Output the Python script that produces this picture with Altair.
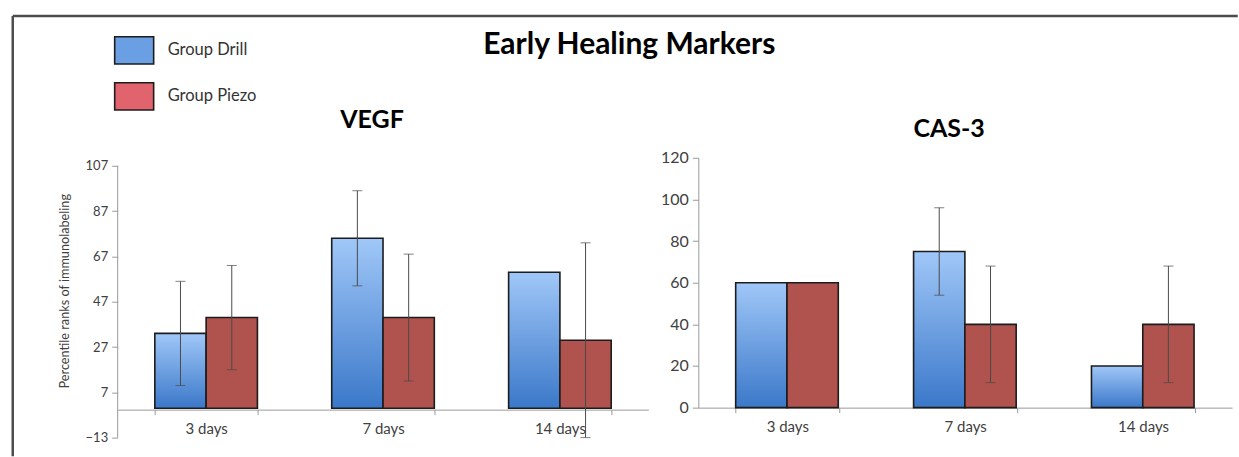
import altair as alt
import pandas as pd

# Time points and treatment groups
days = ["3 days", "7 days", "14 days"]
groups = ["Group Drill", "Group Piezo"]

# VEGF: percentile ranks of immunolabeling (mean and error half-width)
vegf_drill = [33, 75, 60]
vegf_drill_err = [23, 21, None]
vegf_piezo = [40, 40, 30]
vegf_piezo_err = [23, 28, 43]

# CAS-3
cas3_drill = [60, 75, 20]
cas3_drill_err = [None, 21, None]
cas3_piezo = [60, 40, 40]
cas3_piezo_err = [None, 28, 28]

# Axis tick values
vegf_ticks = [-13, 7, 27, 47, 67, 87, 107]
cas3_ticks = [0, 20, 40, 60, 80, 100, 120]

FONT = "Lato"
BLUE_GRADIENT = {
    "gradient": "linear",
    "x1": 0, "y1": 0, "x2": 0, "y2": 1,
    "stops": [
        {"offset": 0, "color": "#a0c7f8"},
        {"offset": 1, "color": "#3b78c9"},
    ],
}
RED_FILL = "#b0524d"
FRAME = "#4d4d4d"


def build_table(drill, drill_err, piezo, piezo_err):
    rows = []
    for series, vals, errs in (("Group Drill", drill, drill_err),
                               ("Group Piezo", piezo, piezo_err)):
        for day, v, e in zip(days, vals, errs):
            rows.append({
                "day": day,
                "group": series,
                "value": v,
                "lo": None if e is None else v - e,
                "hi": None if e is None else v + e,
            })
    return pd.DataFrame(rows)


def panel(df, width, height, ydomain, yticks, title, title_dx, title_offset,
          x_axis_offset, ylabel_size, ytitle=None, legend=False, yrule=None):
    x = alt.X(
        "day:N", sort=days,
        scale=alt.Scale(paddingInner=0.42, paddingOuter=0.21),
        axis=alt.Axis(title=None, offset=x_axis_offset, tickBand="extent",
                      domainColor="#9a9a9a", tickColor="#9a9a9a", tickSize=5,
                      labelFontSize=15, labelColor="#404040", labelFont=FONT,
                      labelPadding=7, labelAngle=0),
    )
    xo = alt.XOffset("group:N", sort=groups,
                     scale=alt.Scale(paddingInner=0, paddingOuter=0))
    yaxis_kw = dict(values=yticks, grid=False, domain=yrule is None,
                    domainColor="#9a9a9a", tickColor="#9a9a9a", tickSize=6,
                    labelFontSize=ylabel_size, labelColor="#404040",
                    labelFont=FONT, labelPadding=4)
    if ytitle:
        yaxis_kw.update(title=ytitle, titleFontSize=12.7, titleFont=FONT,
                        titleFontWeight="normal", titleColor="#404040",
                        titlePadding=14, titleY=133)
    else:
        yaxis_kw.update(title=None)
    y = alt.Y("value:Q",
              scale=alt.Scale(domain=ydomain, nice=False, zero=False),
              axis=alt.Axis(**yaxis_kw))

    base = alt.Chart(df)
    drill_bars = base.transform_filter(alt.datum.group == "Group Drill").mark_bar(
        fill=BLUE_GRADIENT, stroke="#1c1c1c", strokeWidth=1.6
    ).encode(x=x, xOffset=xo, y=y, y2=alt.datum(0))
    piezo_bars = base.transform_filter(alt.datum.group == "Group Piezo").mark_bar(
        fill=RED_FILL, stroke="#1c1c1c", strokeWidth=1.6
    ).encode(x=x, xOffset=xo, y=y, y2=alt.datum(0))

    err = base.transform_filter("isValid(datum.lo)")
    err_rule = err.mark_rule(color="#4a4a4a", strokeWidth=1).encode(
        x=x, xOffset=xo, y="lo:Q", y2="hi:Q")
    cap_lo = err.mark_tick(color="#4a4a4a", thickness=1, size=10).encode(
        x=x, xOffset=xo, y="lo:Q")
    cap_hi = err.mark_tick(color="#4a4a4a", thickness=1, size=10).encode(
        x=x, xOffset=xo, y="hi:Q")

    layers = [drill_bars, piezo_bars, err_rule, cap_lo, cap_hi]

    if yrule is not None:
        layers.append(
            alt.Chart(pd.DataFrame({"a": [0]})).mark_rule(
                color="#9a9a9a", strokeWidth=1
            ).encode(x=alt.value(0), y=alt.datum(yrule[0]), y2=alt.datum(yrule[1]))
        )

    if legend:
        layers.append(
            base.mark_square(opacity=0).encode(
                x=x, xOffset=xo, y=y,
                color=alt.Color(
                    "group:N", sort=groups,
                    scale=alt.Scale(domain=groups, range=["#6a9fe3", "#e0636e"]),
                    legend=alt.Legend(
                        title=None, orient="none", legendX=-4, legendY=-128,
                        padding=0, symbolType="M-1,-0.7H1V0.7H-1Z",
                        symbolSize=1521, symbolOpacity=1,
                        symbolStrokeColor="#1c1c1c", symbolStrokeWidth=1.6,
                        labelFontSize=16.5, labelFont=FONT, labelColor="#333333",
                        labelOffset=13, rowPadding=8,
                    ),
                ),
            )
        )
        # figure frame: left and top edges (the others fall outside the canvas)
        frame_src = alt.Chart(pd.DataFrame({"a": [0]}))
        layers.append(
            frame_src.mark_rule(color=FRAME, strokeWidth=2.5).encode(
                x=alt.value(-105), y=alt.value(-142), y2=alt.value(298.75))
        )
        layers.append(
            frame_src.mark_rule(color=FRAME, strokeWidth=2.5).encode(
                x=alt.value(-105), x2=alt.value(1120.75), y=alt.value(-142))
        )

    return alt.layer(*layers).properties(
        width=width, height=height,
        title=alt.TitleParams(title, fontSize=25, font=FONT, fontWeight="bold",
                              color="#000000", anchor="middle", dx=title_dx,
                              offset=title_offset),
    )


vegf_df = build_table(vegf_drill, vegf_drill_err, vegf_piezo, vegf_piezo_err)
cas3_df = build_table(cas3_drill, cas3_drill_err, cas3_piezo, cas3_piezo_err)

# extra 8 px of headroom above 107 keeps both panels top-aligned
vegf = panel(vegf_df, 531, 280, [-13, 110.53], vegf_ticks, "VEGF", -11, -118,
             -28, 13, ytitle="Percentile ranks of immunolabeling", legend=True,
             yrule=(-13, 107))
cas3 = panel(cas3_df, 534, 250, [0, 120], cas3_ticks, "CAS-3", -16, 8, 0, 16)

chart = alt.hconcat(vegf, cas3, spacing=50, bounds="flush").properties(
    title=alt.TitleParams("Early Healing Markers", fontSize=30, font=FONT,
                          fontWeight="bold", color="#000000", anchor="middle",
                          dx=4, offset=-45),
    autosize=alt.AutoSizeParams(type="pad"),
    padding={"left": 10.75, "top": 13.75, "right": 0, "bottom": 0},
    background="white",
).configure_view(stroke=None).resolve_scale(color="independent")

chart.save("out.html", embed_options={"renderer": "svg", "actions": False})
